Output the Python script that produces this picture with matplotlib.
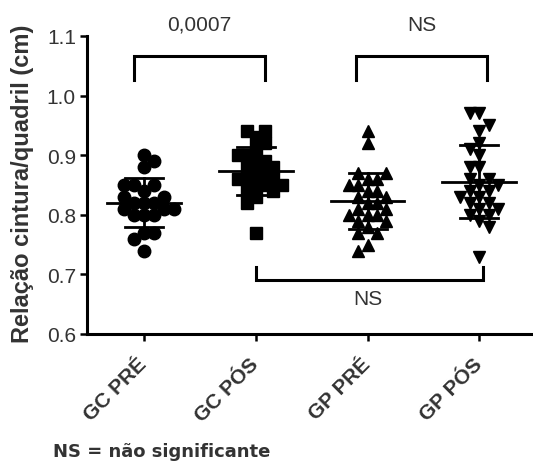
import numpy as np
import matplotlib
matplotlib.use("Agg")
import matplotlib.pyplot as plt

plt.rcParams['font.family'] = ['Liberation Sans', 'DejaVu Sans']

# --- data (waist/hip ratio) ---
groups = ["GC PRÉ", "GC PÓS", "GP PRÉ", "GP PÓS"]
gc_pre = [0.90, 0.89, 0.88, 0.85, 0.85, 0.85, 0.84, 0.83, 0.83, 0.82, 0.82,
          0.82, 0.81, 0.81, 0.81, 0.80, 0.80, 0.80, 0.77, 0.77, 0.76, 0.74]
gc_pos = [0.94, 0.94, 0.93, 0.92, 0.91, 0.90, 0.90, 0.89, 0.89, 0.88, 0.88,
          0.87, 0.87, 0.86, 0.86, 0.86, 0.85, 0.85, 0.85, 0.84, 0.84, 0.83,
          0.82, 0.77]
gp_pre = [0.94, 0.92, 0.87, 0.87, 0.86, 0.86, 0.85, 0.85, 0.84, 0.84, 0.83,
          0.83, 0.82, 0.82, 0.81, 0.81, 0.80, 0.80, 0.80, 0.79, 0.79, 0.78,
          0.77, 0.77, 0.75, 0.74]
gp_pos = [0.97, 0.97, 0.95, 0.94, 0.92, 0.91, 0.90, 0.88, 0.88, 0.86, 0.86,
          0.85, 0.85, 0.84, 0.84, 0.83, 0.83, 0.82, 0.82, 0.81, 0.81, 0.80,
          0.80, 0.79, 0.78, 0.73]
all_groups = [gc_pre, gc_pos, gp_pre, gp_pos]
markers = ["o", "s", "^", "v"]
msizes = [9, 8, 8.5, 8.5]

# significance brackets above the groups
top_brackets = [(0.91, 2.08, "0,0007"), (2.90, 4.07, "NS")]
gray = "#333333"

fig = plt.figure(figsize=(5.33, 4.64), dpi=100)
ax = fig.add_axes([87 / 533, 129 / 464, 1 - 87 / 533, 298 / 464])
ax.set_xlim(0.491, 4.48)
ax.set_ylim(0.6, 1.1)

# pixel scale of the axes, used for the swarm layout
X_PX = 111.8
Y_PX = 596.0


def swarm(vals, diam):
    vals = np.asarray(vals)
    order = np.argsort(np.abs(vals - np.median(vals)))
    placed = []
    offs = np.zeros(len(vals))
    step = diam * 0.4
    flip = 1
    for i in order:
        y = vals[i] * Y_PX
        k = 0
        while True:
            cands = [0.0] if k == 0 else [flip * k * step, -flip * k * step]
            done = False
            for c in cands:
                ok = all((c - px) ** 2 + (y - py) ** 2 >= (diam * 0.78) ** 2
                         for px, py in placed)
                if ok:
                    offs[i] = c
                    placed.append((c, y))
                    if c != 0:
                        flip = -flip
                    done = True
                    break
            if done:
                break
            k += 1
    return offs / X_PX


for gi, vals in enumerate(all_groups):
    pos = gi + 1
    diam = msizes[gi] * 100 / 72
    xo = swarm(vals, diam)
    ax.plot(pos + xo, vals, linestyle="none", marker=markers[gi],
            ms=msizes[gi], color="black", mec="black", zorder=2)
    m = np.mean(vals)
    sd = np.std(vals, ddof=1)
    ax.plot([pos, pos], [m - sd, m + sd], color="black", lw=2, zorder=3)
    ax.plot([pos - 0.33, pos + 0.33], [m, m], color="black", lw=2, zorder=3)
    for yy in (m - sd, m + sd):
        ax.plot([pos - 0.17, pos + 0.17], [yy, yy], color="black", lw=2,
                zorder=3)

# brackets above
for x0, x1, lab in top_brackets:
    ax.plot([x0, x0, x1, x1], [1.026, 1.066, 1.066, 1.026], color="black",
            lw=2.2, clip_on=False, solid_joinstyle="miter")
    ax.text((x0 + x1) / 2, 1.12, lab, ha="center", va="center", fontsize=15,
            color=gray, clip_on=False)

# bracket below
ax.plot([2.0, 2.0, 4.03, 4.03], [0.712, 0.691, 0.691, 0.712], color="black",
        lw=2.2, solid_joinstyle="miter")
ax.text(3.0, 0.659, "NS", ha="center", va="center", fontsize=15, color=gray)

for s in ("top", "right"):
    ax.spines[s].set_visible(False)
for s in ("left", "bottom"):
    ax.spines[s].set_linewidth(2.2)

ax.set_yticks([0.6, 0.7, 0.8, 0.9, 1.0, 1.1])
ax.set_yticklabels(["0.6", "0.7", "0.8", "0.9", "1.0", "1.1"])
ax.set_xticks([1, 2, 3, 4])
ax.set_xticklabels(groups, rotation=45, ha="right", va="center",
                   rotation_mode="anchor", fontsize=15, fontweight="bold",
                   color=gray)
ax.tick_params(axis="y", labelsize=15, labelcolor=gray, length=5, width=1.8,
               pad=3)
ax.tick_params(axis="x", length=5, width=1.8, pad=14)

fig.text(22.5 / 533, 1 - 184 / 464, "Relação cintura/quadril (cm)",
         rotation=90, ha="center", va="center", fontsize=17,
         fontweight="bold", color=gray)
fig.text(53 / 533, 1 - 452 / 464, "NS = não significante", ha="left",
         va="center", fontsize=13, fontweight="bold", color=gray,
         family="DejaVu Sans")

fig.savefig("out.png", dpi=100)
